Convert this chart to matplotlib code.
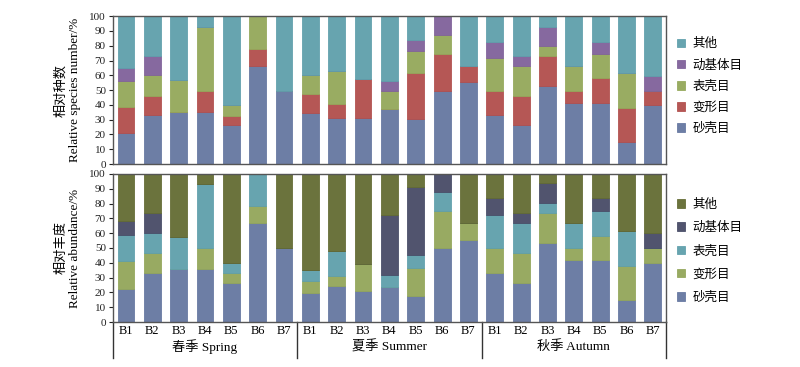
import numpy as np
import matplotlib
matplotlib.use("Agg")
from matplotlib import pyplot as plt
from matplotlib import transforms

plt.rcParams['font.family'] = ['Liberation Serif', 'Noto Sans CJK SC']

sites = ["B1", "B2", "B3", "B4", "B5", "B6", "B7"]
seasons = ["春季 Spring", "夏季 Summer", "秋季 Autumn"]
groups = ["砂壳目", "变形目", "表壳目", "动基体目", "其他"]

# relative species number (%), spring B1..B7, summer B1..B7, autumn B1..B7
sp_sand = [21, 33, 35.3, 35.3, 26.2, 66.3, 49.5, 34.2, 31.4, 31.4, 37.1, 30.3, 49.5, 55.2,
           33, 26.2, 52.9, 41.2, 41.2, 14.9, 39.6]
sp_deform = [17.7, 13, 0, 14.2, 6.6, 11.3, 0, 13.1, 9.1, 26.1, 0, 31, 25.2, 11.3,
             16.5, 20, 20, 8.3, 16.7, 23.1, 9.9]
sp_arcell = [17.3, 14, 21.5, 43.3, 6.8, 22.4, 0, 12.9, 22.6, 0, 12.4, 15.4, 12.4, 0,
             22.2, 20.3, 6.7, 17, 16.8, 23.3, 0]
sp_kineto = [8.7, 13, 0, 0, 0, 0, 0, 0, 0, 0, 6.4, 7.5, 12.9, 0,
             11.1, 6.6, 13.4, 0, 8.1, 0, 10.2]
sp_other = [35.3, 27, 43.2, 7.2, 60.4, 0, 50.5, 39.8, 36.9, 42.5, 44.1, 15.8, 0, 33.5,
            17.2, 26.9, 7, 33.5, 17.2, 38.7, 40.3]

# relative abundance (%)
ab_sand = [22.6, 33.1, 35.6, 35.6, 26.3, 66.9, 50, 19.6, 24, 21.2, 23.5, 17.8, 50, 55.7,
           33.1, 26.3, 53.4, 41.6, 41.6, 15.1, 39.7]
ab_deform = [18.3, 13.5, 0, 14.6, 6.8, 11.2, 0, 7.8, 7, 17.8, 0, 18.7, 25.3, 11.4,
             16.9, 20.3, 20.1, 8.4, 16.8, 23, 10.3]
ab_arcell = [18.2, 13.7, 21.7, 43, 6.6, 21.9, 0, 7.5, 17.2, 0, 8.5, 8.7, 12.6, 0,
             22.4, 20.3, 6.9, 16.9, 16.9, 23.5, 0]
ab_kineto = [9.2, 13.2, 0, 0, 0, 0, 0, 0, 0, 0, 40.1, 46.1, 12.1, 0,
             11.2, 6.6, 13.4, 0, 8.3, 0, 10]
ab_other = [31.7, 26.5, 42.7, 6.8, 60.3, 0, 50, 65.1, 51.8, 61, 27.9, 8.7, 0, 32.9,
            16.4, 26.5, 6.2, 33.1, 16.4, 38.4, 40]

top_colors = ["#6577a0", "#b14e4c", "#94a85a", "#80619a", "#5f9fab"]
bot_colors = ["#6577a0", "#93a65a", "#5f9fab", "#474b66", "#636b32"]

fig = plt.figure(figsize=(8, 3.67), dpi=100)
ax1 = fig.add_axes([0.141, 0.553, 0.6915, 0.403])
ax2 = fig.add_axes([0.141, 0.1226, 0.6915, 0.4034])

x = np.arange(21)
width = 0.64


def stack(ax, series, colors):
    bottom = np.zeros(21)
    handles = []
    for vals, c in zip(series, colors):
        vals = np.array(vals)
        h = ax.bar(x, vals, width, bottom=bottom, color=c, edgecolor=c,
                   linewidth=0.6, alpha=0.95)
        handles.append(h)
        bottom += vals
    return handles


h1 = stack(ax1, [sp_sand, sp_deform, sp_arcell, sp_kineto, sp_other], top_colors)
h2 = stack(ax2, [ab_sand, ab_deform, ab_arcell, ab_kineto, ab_other], bot_colors)

for ax in (ax1, ax2):
    ax.set_xlim(-0.5, 20.5)
    ax.set_ylim(0, 100)
    ax.set_yticks(np.arange(0, 101, 10))
    ax.tick_params(axis='y', labelsize=8, length=3, width=0.8, pad=2, colors='#222222')
    for s in ax.spines.values():
        s.set_color('#555555')
        s.set_linewidth(1.0)

ax1.set_xticks([])
ax2.set_xticks(x)
ax2.set_xticklabels(sites * 3, fontsize=9)
ax2.tick_params(axis='x', length=0, pad=2)

ax1.set_ylabel("相对种数\nRelative species number/%", fontsize=9.5, labelpad=6,
               linespacing=1.2)
ax2.set_ylabel("相对丰度\nRelative abundance/%", fontsize=9.5, labelpad=6,
               linespacing=1.2)

# season brackets below the lower panel
trans = transforms.blended_transform_factory(ax2.transData, ax2.transAxes)
for xv in [-0.5, 6.5, 13.5, 20.5]:
    ax2.plot([xv, xv], [0, -0.245], transform=trans, color='#333333', lw=1.0,
             clip_on=False)
for i, name in enumerate(seasons):
    ax2.text(i * 7 + 3, -0.168, name, transform=trans, ha='center', va='center',
             fontsize=9.5)

ax1.legend(h1[::-1], groups[::-1], loc='upper left', bbox_to_anchor=(1.01, 0.885),
           frameon=False, fontsize=9, handlelength=0.7, handleheight=0.7,
           handletextpad=0.6, labelspacing=0.72, borderaxespad=0)
ax2.legend(h2[::-1], groups[::-1], loc='upper left', bbox_to_anchor=(1.01, 0.865),
           frameon=False, fontsize=9, handlelength=0.7, handleheight=0.7,
           handletextpad=0.6, labelspacing=0.88, borderaxespad=0)

fig.savefig("out.png", dpi=100)
